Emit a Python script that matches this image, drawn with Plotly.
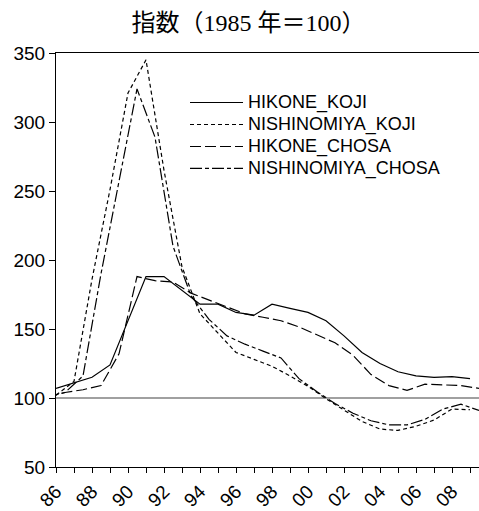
import plotly.graph_objects as go

# Survey timing: KOJI (official price, Jan) on whole years, CHOSA (prefectural survey, Jul) on half years
koji_years = [1986 + i for i in range(24)]
chosa_years = [1985.5 + i for i in range(25)]

hikone_koji = [107, 111, 115, 124, 156, 188, 188, 178, 168, 168, 162, 160,
               168, 165, 162, 156, 145, 133, 125, 119, 116, 115, 115.5, 114]
nishinomiya_koji = [102, 112, 186, 251, 321, 345, 265, 195, 161, 147, 133, 128,
                    123, 116, 108.5, 99.5, 91, 83, 77.5, 76.5, 79.5, 84, 92, 91.5]
hikone_chosa = [100.5, 104, 106, 109, 132, 188, 185, 184, 176, 171, 166, 161,
                158.5, 156, 151.5, 146, 140, 131, 117, 109, 105.5, 110, 109.5, 109, 107]
nishinomiya_chosa = [101, 104, 116, 190, 257, 324, 289, 210, 174, 157, 145, 139,
                     134, 129, 114, 104.5, 96, 89, 83.5, 80.5, 80.5, 84.5, 92, 95.5, 91]

tick_years = list(range(1986, 2009, 2))
tick_labels = [f"{y % 100:02d}" for y in tick_years]

series = [
    ("HIKONE_KOJI", koji_years, hikone_koji, "solid"),
    ("NISHINOMIYA_KOJI", koji_years, nishinomiya_koji, "4px,3px"),
    ("HIKONE_CHOSA", chosa_years, hikone_chosa, "11px,4px"),
    ("NISHINOMIYA_CHOSA", chosa_years, nishinomiya_chosa, "12px,3px,4px,3px"),
]

fig = go.Figure()
for name, xs, ys, dash in series:
    fig.add_trace(go.Scatter(
        x=xs, y=ys, mode="lines",
        # larger label text inside compact legend rows
        name=f'<span style="font-size:18px">{name}</span>',
        line=dict(color="black", width=1.2, dash=dash),
    ))

# Base-year reference level
fig.add_shape(type="line", xref="paper", yref="y", x0=0, x1=1, y0=100, y1=100,
              line=dict(color="#808080", width=1.6), layer="below")

fig.update_layout(
    width=479, height=511,
    margin=dict(l=56, r=0, t=53, b=38),
    paper_bgcolor="white", plot_bgcolor="white",
    font=dict(family="Liberation Sans, Arial, sans-serif", color="black"),
    title=dict(
        text="指数（1985 年＝100）",
        font=dict(family="Liberation Serif, Noto Sans CJK JP, serif", size=24, color="black"),
        x=0.519, xref="container", xanchor="center",
        y=1 - 23 / 511, yref="container", yanchor="middle",
    ),
    showlegend=True,
    legend=dict(
        x=0.305, xanchor="left", y=0.919, yanchor="top",
        bgcolor="rgba(0,0,0,0)", borderwidth=0,
        font=dict(size=14.6, family="Liberation Sans, Arial, sans-serif"),
        itemwidth=53, tracegroupgap=0,
    ),
    xaxis=dict(
        range=[1986, 2009.5],
        tickvals=tick_years, ticktext=tick_labels, tickangle=-45,
        ticks="outside", ticklen=5, tickcolor="black",
        minor=dict(dtick=1, tick0=1986, ticks="outside", ticklen=5, tickcolor="black"),
        showline=True, linecolor="black", linewidth=1, mirror=True,
        showgrid=False, zeroline=False,
        tickfont=dict(size=19),
    ),
    yaxis=dict(
        range=[50, 350], dtick=50, tick0=50,
        ticks="outside", ticklen=6, tickcolor="black",
        showline=True, linecolor="black", linewidth=1,
        showgrid=False, zeroline=False,
        tickfont=dict(size=19),
    ),
)

fig.write_html("out.html")
